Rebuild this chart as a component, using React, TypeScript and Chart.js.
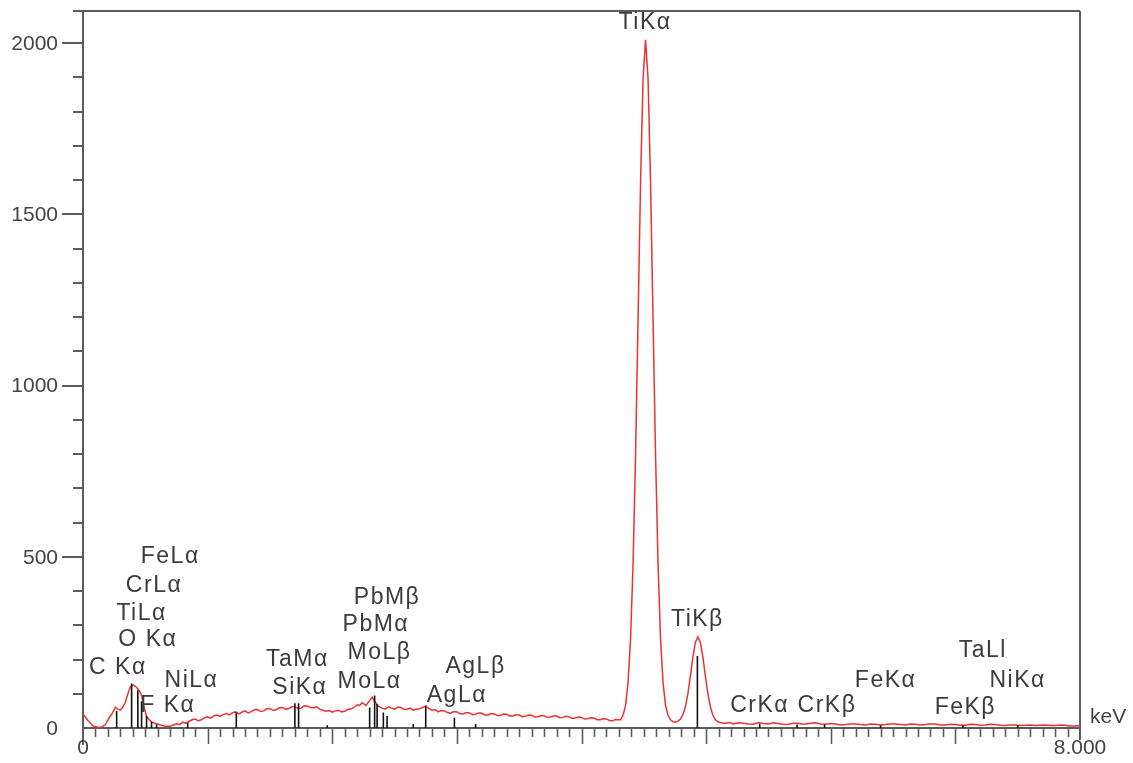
import React, { useEffect, useRef } from "react";
import { Chart, registerables } from "chart.js";

Chart.register(...registerables);

// ---- Spectrum (energy in keV, counts) ----
const energyKeV = [
  // low-energy region
  0.0, 0.04, 0.08, 0.12, 0.15, 0.18, 0.21, 0.23, 0.26, 0.28,
  0.3, 0.32, 0.34, 0.36, 0.38, 0.4, 0.42, 0.43, 0.45, 0.47,
  0.49, 0.51, 0.53, 0.55, 0.58, 0.62, 0.66, 0.7,
  // background hump
  0.725, 0.75, 0.775, 0.8, 0.825, 0.85, 0.875, 0.9, 0.925, 0.95,
  0.975, 1.0, 1.025, 1.05, 1.075, 1.1, 1.125, 1.15, 1.175, 1.2,
  1.225, 1.25, 1.275, 1.3, 1.325, 1.35, 1.375, 1.4, 1.425, 1.45,
  1.475, 1.5, 1.525, 1.55, 1.575, 1.6, 1.625, 1.65, 1.675, 1.7,
  1.725, 1.75, 1.775, 1.8, 1.825, 1.85, 1.875, 1.9, 1.925, 1.95,
  1.975, 2.0, 2.025, 2.05, 2.075, 2.1, 2.125, 2.15, 2.175, 2.2,
  2.22, 2.24, 2.27, 2.3, 2.32, 2.34, 2.37, 2.4, 2.425, 2.45,
  2.475, 2.5, 2.525, 2.55, 2.575, 2.6, 2.625, 2.65, 2.675, 2.7,
  2.725, 2.75, 2.775, 2.8, 2.825, 2.85, 2.875, 2.9, 2.925, 2.95,
  2.975, 3.0, 3.025, 3.05, 3.075, 3.1, 3.125, 3.15, 3.175, 3.2,
  3.225, 3.25, 3.275, 3.3, 3.325, 3.35, 3.375, 3.4, 3.425, 3.45,
  3.475, 3.5, 3.525, 3.55, 3.575, 3.6, 3.625, 3.65, 3.675, 3.7,
  3.725, 3.75, 3.775, 3.8, 3.825, 3.85, 3.875, 3.9, 3.925, 3.95,
  3.975, 4.0, 4.025, 4.05, 4.075, 4.1, 4.125, 4.15, 4.175, 4.2,
  4.225, 4.25, 4.27, 4.29,
  // Ti K peaks
  4.314, 4.334, 4.354, 4.374, 4.394, 4.414, 4.434, 4.454, 4.474, 4.494,
  4.514, 4.534, 4.554, 4.574, 4.594, 4.614, 4.634, 4.654, 4.674, 4.694,
  4.714, 4.734, 4.754, 4.774, 4.794, 4.814, 4.834, 4.854, 4.874, 4.894,
  4.914, 4.934, 4.954, 4.974, 4.994, 5.014, 5.034, 5.054, 5.074, 5.094,
  5.12,
  // high-energy tail
  5.15, 5.19, 5.22, 5.26, 5.3, 5.34, 5.38, 5.4, 5.42, 5.46,
  5.5, 5.54, 5.58, 5.62, 5.66, 5.7, 5.74, 5.77, 5.8, 5.84,
  5.88, 5.92, 5.96, 6.0, 6.04, 6.08, 6.12, 6.16, 6.2, 6.24,
  6.28, 6.32, 6.36, 6.4, 6.44, 6.48, 6.52, 6.56, 6.6, 6.64,
  6.68, 6.72, 6.76, 6.8, 6.84, 6.88, 6.92, 6.96, 7.0, 7.04,
  7.08, 7.12, 7.16, 7.2, 7.24, 7.28, 7.32, 7.36, 7.4, 7.44,
  7.48, 7.52, 7.56, 7.6, 7.64, 7.68, 7.72, 7.76, 7.8, 7.84,
  7.88, 7.92, 7.96, 8.0,
];
const counts = [
  40, 22, 6, 2, 3, 10, 30, 40, 60, 55,
  52, 62, 75, 100, 120, 126, 122, 118, 110, 95,
  62, 34, 25, 18, 13, 9, 5, 5,
  9, 12, 10, 17, 14, 19, 24, 26, 21, 24,
  30, 33, 29, 36, 38, 34, 39, 42, 38, 45,
  47, 41, 46, 50, 44, 48, 53, 54, 48, 50,
  56, 57, 51, 53, 59, 60, 55, 56, 62, 63,
  57, 58, 65, 64, 60, 59, 62, 55, 52, 49,
  51, 46, 50, 52, 47, 49, 54, 56, 60, 68,
  66, 74, 66, 80, 90, 78, 64, 58, 55, 62,
  58, 55, 61, 60, 55, 54, 58, 52, 55, 56,
  60, 64, 57, 52, 54, 47, 51, 50, 45, 43,
  48, 47, 42, 41, 45, 44, 39, 40, 44, 43,
  38, 38, 42, 41, 36, 37, 41, 40, 35, 35,
  39, 38, 33, 34, 38, 37, 32, 33, 36, 36,
  31, 32, 35, 35, 30, 31, 34, 33, 28, 29,
  32, 31, 26, 27, 30, 29, 24, 24, 27, 26,
  22, 21, 25, 24,
  24, 38, 67, 134, 263, 482, 801, 1196, 1595, 1897,
  2010, 1897, 1595, 1196, 801, 482, 263, 134, 67, 38,
  24, 19, 17, 20, 26, 39, 62, 101, 152, 207,
  250, 266, 250, 207, 152, 101, 62, 37, 24, 18,
  15,
  14, 16, 12, 15, 14, 12, 11, 14, 15, 13,
  12, 15, 13, 10, 11, 14, 14, 11, 12, 14,
  15, 12, 11, 13, 12, 9, 10, 12, 12, 10,
  9, 12, 11, 9, 10, 12, 12, 10, 9, 12,
  11, 9, 10, 12, 12, 9, 9, 11, 10, 8,
  8, 11, 10, 8, 9, 11, 10, 8, 7, 9,
  9, 7, 8, 9, 7, 8, 9, 7, 7, 9,
  8, 6, 6, 7,
];

// ---- Element line markers ----
const markerKeV = [
  0.27, 0.39, 0.44, 0.47, 0.51, 0.55, 0.59, 0.84, 1.23, 1.7, 1.73, 1.96, 2.3, 2.34, 2.36, 2.41, 2.44,
  2.65, 2.75, 2.98, 3.15, 4.93, 5.43, 5.73, 5.95, 6.4, 7.06, 7.5,
];
const markerHeights = [
  50, 130, 110, 78, 35, 18, 10, 15, 45, 72, 72, 8, 60, 95, 70, 45, 35,
  12, 65, 30, 12, 210, 12, 10, 10, 8, 8, 8,
];

// ---- Peak labels ----
const labelTexts = [
  "TiKα", "TiKβ", "FeLα", "CrLα", "TiLα", "O Kα", "C Kα", "NiLα", "F Kα", "TaMα", "SiKα",
  "PbMβ", "PbMα", "MoLβ", "MoLα", "AgLβ", "AgLα", "CrKα", "CrKβ", "FeKα", "FeKβ", "TaLl", "NiKα",
];
const labelKeV = [
  4.51, 4.93, 0.70, 0.57, 0.47, 0.52, 0.28, 0.87, 0.68, 1.72, 1.74,
  2.44, 2.35, 2.38, 2.30, 3.15, 3.00, 5.43, 5.97, 6.44, 7.08, 7.22, 7.50,
];
const labelCounts = [
  2061, 315, 499, 417, 333, 257, 175, 137, 64, 199, 117,
  382, 301, 219, 134, 178, 93, 64, 64, 137, 58, 225, 137,
];

// ---- Axis ticks ----
const yTickLabelValues = [0, 500, 1000, 1500, 2000];
const xTickLabelValues = [0, 8];
const xTickLabelTexts = ["0", "8.000"];
const xUnit = "keV";

const X_MIN = 0;
const X_MAX = 8;
const Y_MIN = 0;
const Y_MAX = 2094;

const FONT = '"Liberation Sans", Arial, sans-serif';

const edsPlugin = {
  id: "edsAxes",
  beforeDatasetsDraw(chart: any) {
    const { ctx, chartArea: a, scales } = chart;
    const x = scales.x;
    const y = scales.y;
    ctx.save();
    ctx.strokeStyle = "#5c5c5c";
    ctx.lineWidth = 2;
    const y0 = y.getPixelForValue(0);
    // frame
    ctx.beginPath();
    ctx.moveTo(a.left - 10, a.top);
    ctx.lineTo(a.right, a.top);
    ctx.moveTo(a.left, a.top);
    ctx.lineTo(a.left, y0 + 17);
    ctx.moveTo(a.right, a.top);
    ctx.lineTo(a.right, y0 + 12);
    ctx.moveTo(a.left, y0);
    ctx.lineTo(a.right, y0);
    ctx.stroke();

    // y ticks
    ctx.lineWidth = 2;
    ctx.beginPath();
    for (let v = 100; v <= 2000; v += 100) {
      const py = Math.round(y.getPixelForValue(v));
      const len = v % 500 === 0 ? 21 : 10;
      ctx.moveTo(a.left - len, py);
      ctx.lineTo(a.left, py);
    }
    ctx.stroke();

    // x ticks
    ctx.lineWidth = 1.6;
    ctx.beginPath();
    for (let i = 1; i < 80; i++) {
      const px = Math.round(x.getPixelForValue(i / 10)) + 0.5;
      const len = i % 10 === 0 ? 16 : 9;
      ctx.moveTo(px, y0);
      ctx.lineTo(px, y0 + len);
    }
    ctx.stroke();

    // tick labels
    ctx.fillStyle = "#444";
    ctx.font = `21px ${FONT}`;
    ctx.textAlign = "right";
    ctx.textBaseline = "middle";
    yTickLabelValues.forEach((v) => {
      ctx.fillText(String(v), a.left - 25, y.getPixelForValue(v) + 1);
    });
    ctx.textAlign = "center";
    xTickLabelValues.forEach((v, i) => {
      ctx.fillText(xTickLabelTexts[i], x.getPixelForValue(v), y0 + 20);
    });
    ctx.textAlign = "left";
    ctx.fillText(xUnit, a.right + 10, y0 - 11);
    ctx.restore();
  },
  afterDatasetsDraw(chart: any) {
    const { ctx, scales } = chart;
    const x = scales.x;
    const y = scales.y;
    ctx.save();
    ctx.fillStyle = "#3c3c3c";
    ctx.font = `23px ${FONT}`;
    (ctx as any).letterSpacing = "1.5px";
    ctx.textAlign = "center";
    ctx.textBaseline = "middle";
    labelTexts.forEach((t, i) => {
      ctx.fillText(t, x.getPixelForValue(labelKeV[i]), y.getPixelForValue(labelCounts[i]));
    });
    ctx.restore();
  },
};

export default function App() {
  const ref = useRef<HTMLCanvasElement | null>(null);

  useEffect(() => {
    document.body.style.margin = "0";
    if (!ref.current) return;

    const spectrum = energyKeV.map((e, i) => ({ x: e, y: counts[i] }));
    const markers: { x: number; y: number | null }[] = [];
    markerKeV.forEach((e, i) => {
      markers.push({ x: e, y: 0 });
      markers.push({ x: e, y: markerHeights[i] });
      markers.push({ x: e, y: null });
    });

    const chart = new Chart(ref.current, {
      type: "line",
      data: {
        datasets: [
          {
            label: "lines",
            data: markers as any,
            borderColor: "#111",
            borderWidth: 1.6,
            pointRadius: 0,
            spanGaps: false,
            tension: 0,
          },
          {
            label: "spectrum",
            data: spectrum,
            borderColor: "rgb(236, 50, 50)",
            borderWidth: 1.5,
            pointRadius: 0,
            tension: 0,
            clip: false as any,
          },
        ],
      },
      options: {
        responsive: false,
        animation: false,
        devicePixelRatio: 1,
        layout: { padding: { left: 83, top: 11, right: 53, bottom: 35 } },
        plugins: { legend: { display: false }, tooltip: { enabled: false } },
        scales: {
          x: { type: "linear", min: X_MIN, max: X_MAX, display: false },
          y: { type: "linear", min: Y_MIN, max: Y_MAX, display: false },
        },
      },
      plugins: [edsPlugin],
    });
    return () => chart.destroy();
  }, []);

  return (
    <div style={{ position: "relative", width: 1133, height: 763, background: "#fff" }}>
      <canvas ref={ref} width={1133} height={763} style={{ display: "block" }} />
    </div>
  );
}
